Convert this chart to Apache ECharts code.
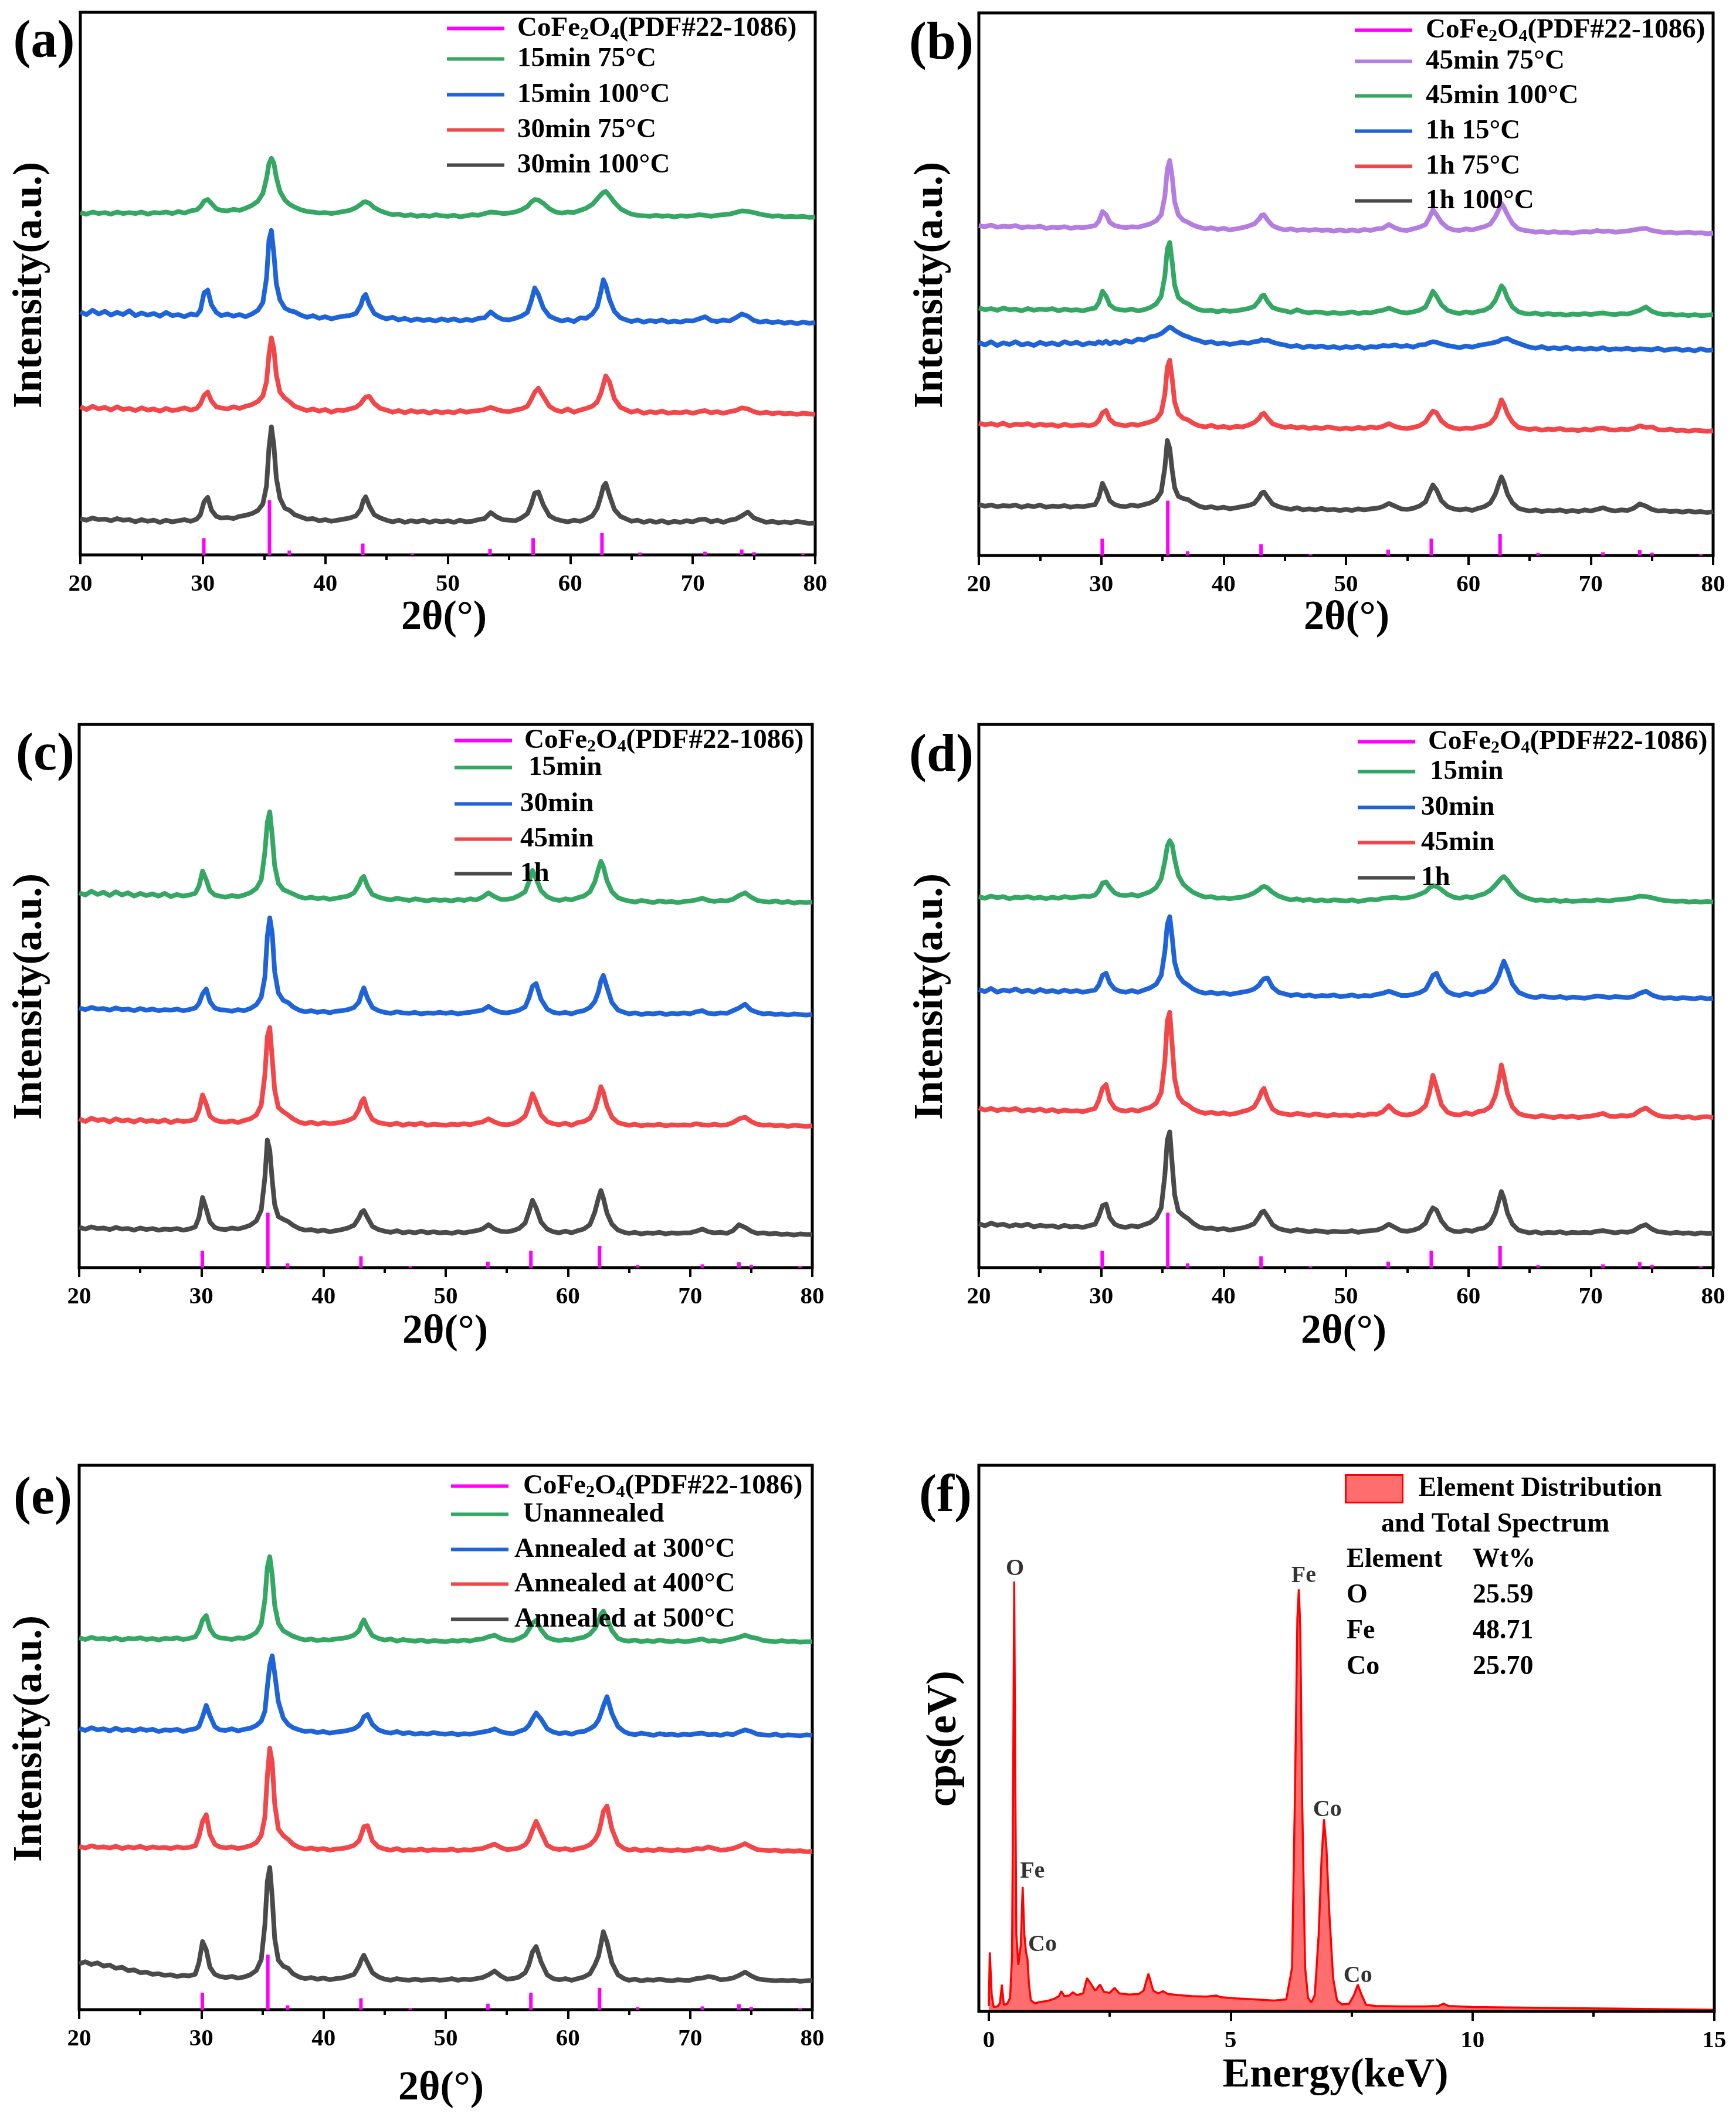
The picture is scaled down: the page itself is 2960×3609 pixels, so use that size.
<!DOCTYPE html>
<html>
<head>
<meta charset="utf-8">
<script src="https://cdn.jsdelivr.net/npm/echarts@6/dist/echarts.min.js"></script>
<style>html,body{margin:0;padding:0;background:#fff;}#c{width:2960px;height:3609px;}</style>
</head>
<body>
<div id="c"></div>
<script>
// ---------- shared 2θ grid for XRD traces ----------
const XG = [
20,20.5,21,21.5,22,22.5,23,23.5,24,24.5,25,25.5,26,26.5,27,27.5,28,28.5,29,29.5,
29.8,30.1,30.4,30.7,31.1,31.5,
32,32.5,33,33.5,34,34.5,
34.9,35.2,35.4,35.6,35.8,36.0,36.3,36.7,37.1,37.5,
38,38.5,39,39.5,40,40.5,41,41.5,42,42.5,
42.9,43.1,43.3,43.6,44.0,44.5,
45,45.5,46,46.5,47,47.5,48,48.5,49,49.5,
50,50.5,51,51.5,52,52.5,53,53.5,54,54.5,
55,55.5,56,56.5,56.8,57.1,57.4,57.8,58.3,58.8,
59.3,59.8,60.3,60.8,61.3,61.8,
62.2,62.5,62.7,62.9,63.2,63.6,64.1,64.6,
65,65.5,66,66.5,67,67.5,68,68.5,69,69.5,
70,70.5,71,71.5,72,72.5,73,73.5,74,74.5,
75,75.5,76,76.5,77,77.5,78,78.5,79,79.5,80];

// ---------- CoFe2O4 reference pattern (PDF#22-1086) ----------
const PDF_NAME = 'CoFe2O4(PDF#22-1086)';
const PDF_X = [30.08,35.44,37.06,43.06,47.1,53.45,56.97,62.59,65.7,71.0,74.0,75.0,79.0];
const PDF_H = [3.1,10.1,0.8,2.1,0.25,1.1,3.1,4.0,0.45,0.6,1.0,0.5,0.25];

// ---------- panel (a) ----------
const NAMES_A = ['15min 75°C','15min 100°C','30min 75°C','30min 100°C'];
const OFF_A = [62.6,43.5,26.4,6.2];
const A_1 = [
0.5,0.2,0.6,0.3,0.5,0.2,0.6,0.3,0.5,0.3,0.6,0.2,0.5,0.4,0.6,0.3,0.7,0.4,0.8,1.0,
1.6,2.6,2.9,2.2,1.2,0.9,
0.8,1.1,0.9,1.3,1.8,2.6,
4.0,6.8,9.5,10.5,9.6,7.0,4.4,2.8,2.0,1.5,
1.0,0.7,0.6,0.4,0.5,0.3,0.5,0.7,0.9,1.4,
2.0,2.4,2.5,2.2,1.4,0.8,
0.4,0.1,0.2,-0.1,0.1,-0.2,0.0,-0.2,0.1,-0.1,
-0.2,0.0,-0.3,-0.1,0.1,0.0,0.3,0.6,0.5,0.3,
0.4,0.6,1.0,1.6,2.4,2.9,2.8,2.2,1.2,0.6,
0.4,0.6,0.5,0.9,1.3,2.0,
3.0,3.8,4.2,4.4,3.6,2.4,1.2,0.6,
0.2,0.0,-0.1,-0.2,0.0,-0.2,-0.1,-0.3,-0.1,-0.2,
-0.1,0.1,0.0,-0.2,0.0,0.1,0.2,0.5,0.8,0.7,
0.5,0.2,0.0,-0.2,-0.1,-0.3,-0.2,-0.3,-0.2,-0.4,-0.3];
const A_2 = [
1.3,0.8,1.6,0.9,1.4,0.7,1.2,0.8,1.5,0.6,1.1,0.7,1.0,0.5,1.2,0.6,0.8,0.4,0.9,0.7,
1.6,4.8,5.3,2.6,1.2,0.6,
0.9,0.5,0.8,0.4,0.9,1.6,
3.0,7.5,14.5,16.3,12.0,6.5,3.5,2.0,1.5,1.3,
0.7,0.3,0.6,0.1,0.4,0.0,0.3,0.5,0.6,1.0,
2.5,4.0,4.5,2.6,1.0,0.4,
0.0,0.3,-0.2,0.1,-0.3,0.0,-0.3,-0.1,-0.4,0.0,
-0.3,0.0,-0.4,-0.1,-0.3,0.1,0.2,1.3,0.4,-0.1,
-0.2,0.1,0.5,1.2,3.2,5.7,4.5,2.0,0.5,0.0,
-0.4,-0.1,-0.5,0.2,0.1,0.9,
2.2,5.0,7.2,6.2,3.6,1.4,0.2,-0.2,
-0.5,-0.2,-0.6,-0.3,-0.5,-0.2,-0.6,-0.4,-0.6,-0.3,
-0.4,0.0,0.4,-0.3,-0.5,-0.2,-0.4,0.2,0.9,0.5,
-0.3,-0.6,-0.4,-0.7,-0.5,-0.8,-0.6,-0.9,-0.6,-0.8,-0.7];
const A_3 = [
0.9,0.4,1.0,0.5,0.8,0.3,0.9,0.4,0.6,0.2,0.7,0.3,0.5,0.1,0.6,0.2,0.4,0.7,0.3,0.6,
1.4,3.0,3.6,2.0,0.9,0.7,
0.5,0.9,0.6,1.0,1.3,1.9,
2.9,5.5,10.5,13.6,11.5,6.8,3.6,2.5,1.8,1.0,
0.6,0.2,0.5,0.1,0.4,-0.1,0.3,0.2,0.5,0.8,
1.5,2.2,2.7,2.8,1.5,0.6,
0.3,-0.1,0.2,-0.2,0.2,-0.1,0.1,-0.3,0.1,-0.2,
0.0,-0.2,0.2,-0.1,0.1,0.2,0.4,0.8,0.4,0.1,
0.0,0.3,0.5,1.0,2.2,3.6,4.3,2.8,1.0,0.3,
0.0,0.5,-0.1,0.3,0.6,1.0,
1.8,3.4,5.0,6.6,5.5,2.4,0.8,0.3,
-0.1,0.2,-0.3,0.0,-0.2,0.1,-0.3,-0.1,-0.2,0.0,
-0.3,0.0,0.2,-0.2,0.0,-0.3,0.0,0.2,0.7,0.5,
0.0,-0.3,-0.1,-0.4,-0.2,-0.4,-0.3,-0.5,-0.3,-0.4,-0.5];
const A_4 = [
0.5,0.2,0.6,0.3,0.4,0.1,0.5,0.2,0.3,-0.1,0.3,0.0,0.2,-0.2,0.2,-0.1,0.1,0.3,0.0,0.4,
1.2,3.6,4.4,2.1,0.9,0.6,
0.7,0.5,0.9,1.1,1.4,2.0,
3.2,6.5,13.5,17.4,14.0,8.0,4.2,2.4,2.0,1.2,
0.8,0.4,0.5,0.1,0.3,0.0,0.2,0.4,0.6,1.0,
2.2,3.8,4.5,2.8,1.2,0.6,
0.2,-0.1,0.2,-0.2,0.1,-0.1,0.2,-0.2,0.1,-0.1,
0.1,-0.2,0.2,-0.1,0.0,0.3,0.5,1.6,0.8,0.3,
0.2,0.1,0.6,1.4,3.0,5.2,5.4,3.0,1.0,0.4,
0.1,-0.1,0.2,0.0,0.4,1.0,
2.4,4.6,6.4,7.0,4.8,2.2,0.9,0.4,
0.0,0.2,-0.2,0.1,-0.2,0.1,-0.3,0.0,-0.2,0.1,
-0.1,0.3,0.4,-0.1,0.2,-0.2,0.2,0.4,1.0,1.7,
0.6,0.2,-0.2,0.0,-0.3,-0.1,-0.3,0.0,-0.2,-0.4,-0.3];

// ---------- panel (b) ----------
const NAMES_B = ['45min 75°C','45min 100°C','1h 15°C','1h 75°C','1h 100°C'];
const OFF_B = [60.2,45.0,38.5,23.7,8.7];
const B_1 = [
0.6,0.4,0.7,0.3,0.5,0.4,0.6,0.2,0.4,0.3,0.5,0.1,0.3,0.2,0.4,0.1,0.3,0.2,0.4,0.6,
1.4,3.2,2.6,1.2,0.6,0.4,
0.2,0.4,0.3,0.6,0.9,1.5,
2.6,6.0,11.0,12.6,9.5,5.0,2.6,1.6,1.2,0.7,
0.3,0.0,0.2,-0.1,0.1,-0.2,0.0,0.2,0.5,0.9,
1.8,2.5,2.6,1.6,0.6,0.1,
-0.2,0.0,-0.3,-0.1,-0.3,-0.1,-0.3,-0.2,-0.4,-0.2,
-0.4,-0.2,-0.4,-0.1,-0.3,0.0,0.1,0.8,0.2,-0.2,
-0.3,0.0,0.3,0.8,2.0,3.5,2.6,1.2,0.2,-0.2,
-0.3,0.0,-0.2,0.1,0.4,0.9,
2.2,3.6,4.7,4.0,2.6,1.0,0.0,-0.3,
-0.4,-0.6,-0.5,-0.7,-0.5,-0.7,-0.6,-0.8,-0.6,-0.5,
-0.6,-0.3,-0.5,-0.4,-0.6,-0.5,-0.4,-0.2,0.0,0.1,
-0.3,-0.5,-0.7,-0.6,-0.8,-0.7,-0.6,-0.8,-0.7,-0.9,-0.8];
const B_2 = [
0.6,0.3,0.5,0.2,0.6,0.3,0.4,0.1,0.5,0.2,0.4,0.3,0.5,0.1,0.4,0.2,0.3,0.1,0.4,0.6,
1.6,3.7,2.8,1.2,0.5,0.3,
0.2,0.4,0.1,0.3,0.7,1.4,
2.8,6.5,11.5,12.7,9.0,4.8,2.6,1.8,1.4,0.8,
0.3,0.1,0.2,-0.1,0.2,0.0,0.1,0.3,0.5,0.9,
2.0,2.8,3.0,1.8,0.7,0.3,
0.1,-0.2,0.3,-0.1,-0.3,-0.1,-0.2,-0.4,-0.2,-0.4,
-0.3,-0.1,-0.4,-0.2,-0.3,0.0,0.2,0.6,0.2,-0.2,
-0.3,-0.1,0.2,0.8,2.2,3.7,2.8,1.2,0.2,-0.2,
-0.4,-0.1,-0.3,0.0,0.2,0.8,
2.0,3.6,4.7,4.2,2.4,0.8,-0.1,-0.4,
-0.5,-0.3,-0.6,-0.4,-0.6,-0.5,-0.7,-0.5,-0.6,-0.4,
-0.6,-0.4,-0.3,-0.5,-0.6,-0.4,-0.5,-0.2,0.2,0.8,
0.0,-0.4,-0.6,-0.5,-0.7,-0.6,-0.8,-0.6,-0.8,-0.7,-0.6];
const B_3 = [
0.8,0.3,0.9,0.2,0.7,0.4,0.9,0.3,0.6,0.2,0.8,0.4,0.7,0.3,0.9,0.5,0.8,0.3,0.7,0.5,
0.9,0.6,1.0,0.5,0.9,0.6,
1.1,0.8,1.4,1.2,1.8,2.0,
2.4,2.9,3.3,3.6,3.4,3.0,2.6,2.1,1.8,1.4,
1.1,0.7,0.9,0.5,0.7,0.4,0.6,0.8,0.6,0.9,
1.0,1.3,1.1,1.2,0.8,0.5,
0.3,0.0,0.2,-0.2,0.1,-0.1,0.1,-0.2,0.0,-0.3,
0.0,-0.2,0.1,-0.3,0.0,-0.1,0.2,0.1,0.3,0.0,
0.2,-0.1,0.3,0.4,0.7,0.9,0.8,0.5,0.2,0.0,
-0.2,0.1,-0.1,0.2,0.4,0.6,
0.8,1.0,1.3,1.4,1.5,1.0,0.6,0.2,
-0.1,-0.3,0.0,-0.4,-0.2,-0.4,-0.1,-0.5,-0.3,-0.5,
-0.3,-0.5,-0.2,-0.6,-0.4,-0.5,-0.3,-0.6,-0.4,-0.5,
-0.6,-0.3,-0.7,-0.5,-0.4,-0.7,-0.5,-0.8,-0.4,-0.7,-0.6];
const B_4 = [
0.7,0.4,0.6,0.3,0.7,0.2,0.5,0.4,0.6,0.2,0.5,0.3,0.4,0.1,0.5,0.2,0.3,0.4,0.2,0.5,
1.2,2.6,3.0,1.4,0.6,0.4,
0.2,0.5,0.3,0.6,0.9,1.4,
2.6,6.0,11.0,12.3,8.8,4.6,2.4,1.6,1.3,0.7,
0.2,0.0,0.3,-0.1,0.1,-0.2,0.1,0.0,0.3,0.8,
1.6,2.3,2.5,1.6,0.6,0.2,
-0.1,0.1,-0.2,0.0,-0.3,-0.1,-0.3,0.0,-0.2,-0.4,
-0.2,-0.4,-0.1,-0.3,0.0,-0.2,0.1,0.6,0.1,-0.2,
-0.3,-0.1,0.2,0.9,2.0,2.9,2.6,1.1,0.2,-0.2,
-0.4,-0.2,-0.3,0.0,0.2,0.7,
1.8,3.6,5.0,4.2,2.4,0.9,-0.1,-0.3,
-0.5,-0.3,-0.6,-0.4,-0.5,-0.3,-0.6,-0.5,-0.7,-0.4,
-0.6,-0.3,-0.2,-0.5,-0.6,-0.4,-0.5,-0.3,0.2,-0.1,
0.0,-0.5,-0.6,-0.4,-0.7,-0.6,-0.8,-0.6,-0.7,-0.8,-0.7];
const B_5 = [
0.7,0.4,0.6,0.3,0.5,0.4,0.6,0.2,0.5,0.3,0.6,0.2,0.4,0.3,0.5,0.2,0.4,0.3,0.5,0.7,
2.0,4.6,3.2,1.4,0.7,0.4,
0.3,0.6,0.4,0.7,1.0,1.6,
3.0,7.5,12.5,11.0,7.0,3.8,2.2,1.8,1.6,1.0,
0.4,0.1,0.3,0.0,0.2,-0.1,0.1,0.3,0.5,0.9,
2.0,2.8,3.0,2.0,0.8,0.3,
0.0,-0.2,0.1,-0.3,-0.1,-0.3,0.0,-0.3,-0.2,-0.4,
-0.2,-0.4,-0.1,-0.3,-0.1,0.0,0.3,0.9,0.4,-0.1,
-0.2,0.0,0.4,1.2,2.8,4.3,3.4,1.4,0.3,-0.1,
-0.3,-0.1,-0.4,0.0,0.3,1.0,
2.6,4.6,5.8,4.8,2.6,1.0,0.0,-0.3,
-0.5,-0.3,-0.6,-0.4,-0.5,-0.3,-0.6,-0.4,-0.6,-0.3,
-0.5,-0.2,0.1,-0.3,-0.5,-0.3,-0.4,0.0,0.8,0.4,
-0.2,-0.5,-0.4,-0.6,-0.5,-0.7,-0.5,-0.7,-0.6,-0.8,-0.6];

// ---------- panel (c) ----------
const NAMES_C = ['15min','30min','45min','1h'];
const OFF_C = [68.0,47.0,26.5,6.6];
const C_1 = [
1.0,0.6,1.3,0.7,1.1,0.5,1.2,0.6,1.0,0.4,0.9,0.5,0.8,0.4,0.9,0.3,0.7,0.4,0.6,0.9,
2.2,5.0,3.4,1.4,0.6,0.4,
0.2,0.5,0.3,0.6,1.0,1.8,
3.4,8.5,14.0,15.9,11.5,6.0,2.8,1.6,1.2,0.8,
0.3,0.0,0.2,-0.1,0.1,-0.2,0.0,0.2,0.4,1.0,
2.5,3.6,4.0,2.2,0.7,0.2,
-0.1,-0.3,0.0,-0.2,-0.4,-0.1,-0.3,-0.5,-0.2,-0.4,
-0.3,-0.5,-0.2,-0.4,-0.1,-0.3,0.2,1.0,0.3,-0.2,
-0.2,0.0,0.5,1.2,3.0,5.1,3.6,1.4,0.3,-0.2,
-0.4,-0.1,-0.3,0.1,0.4,1.2,
3.0,5.4,6.8,5.8,3.2,1.2,0.1,-0.3,
-0.5,-0.7,-0.4,-0.6,-0.8,-0.5,-0.7,-0.6,-0.8,-0.6,
-0.5,-0.3,0.0,-0.4,-0.6,-0.4,-0.5,-0.2,0.5,1.0,
0.2,-0.4,-0.6,-0.7,-0.5,-0.8,-0.6,-0.9,-0.7,-0.8,-0.7];
const C_2 = [
0.8,0.5,0.9,0.6,0.7,0.4,0.8,0.5,0.6,0.3,0.7,0.4,0.6,0.3,0.5,0.4,0.6,0.3,0.5,0.8,
1.6,3.4,4.3,2.0,0.8,0.5,
0.4,0.2,0.5,0.3,0.7,1.4,
2.8,6.5,14.0,17.4,14.5,7.5,3.6,2.2,1.8,1.0,
0.4,0.1,0.3,0.0,0.2,-0.1,0.2,0.3,0.5,0.9,
1.9,3.4,4.5,2.6,0.9,0.3,
0.0,-0.2,0.1,-0.1,-0.2,0.0,-0.3,-0.1,-0.2,0.0,
-0.2,0.0,-0.3,-0.1,0.0,0.2,0.4,1.1,0.4,0.0,
-0.1,0.1,0.4,1.0,2.6,4.8,5.3,2.4,0.6,0.0,
-0.2,0.0,-0.3,0.1,0.3,0.9,
2.0,3.8,5.8,6.8,4.6,1.8,0.4,0.0,
-0.3,-0.1,-0.4,-0.2,-0.3,-0.1,-0.4,-0.2,-0.3,-0.1,
-0.3,0.1,0.3,-0.2,-0.3,-0.1,-0.2,0.3,0.8,1.5,
0.4,0.0,-0.3,-0.2,-0.4,-0.3,-0.5,-0.3,-0.4,-0.5,-0.4];
const C_3 = [
0.9,0.4,1.0,0.6,0.8,0.3,0.9,0.5,0.7,0.3,0.8,0.4,0.6,0.3,0.7,0.2,0.6,0.4,0.5,0.8,
2.4,5.3,3.6,1.4,0.7,0.4,
0.3,0.5,0.2,0.6,0.9,1.6,
3.4,9.0,16.0,17.7,12.0,6.2,3.0,2.2,1.6,0.9,
0.3,0.0,0.3,-0.1,0.2,0.0,0.1,0.3,0.6,1.1,
2.6,4.0,4.6,2.4,0.8,0.2,
0.0,-0.2,0.1,-0.3,0.0,-0.2,0.1,-0.3,-0.1,-0.2,
-0.3,-0.1,-0.2,0.0,-0.2,0.1,0.3,0.9,0.3,-0.1,
-0.2,0.0,0.5,1.4,3.2,5.5,4.0,1.6,0.4,0.0,
-0.2,0.1,-0.3,0.2,0.4,1.0,
2.6,5.0,6.8,5.8,3.2,1.2,0.2,-0.1,
-0.3,-0.1,-0.4,-0.2,-0.3,-0.1,-0.4,-0.2,-0.3,-0.2,
-0.3,0.0,-0.2,-0.3,-0.1,-0.3,-0.2,0.2,0.9,1.2,
0.4,-0.1,-0.3,-0.2,-0.4,-0.3,-0.5,-0.3,-0.4,-0.5,-0.4];
const C_4 = [
0.8,0.5,0.9,0.6,0.7,0.4,0.8,0.5,0.6,0.3,0.7,0.4,0.6,0.3,0.5,0.4,0.6,0.3,0.5,0.9,
2.6,6.3,4.2,1.8,0.8,0.5,
0.4,0.7,0.5,0.8,1.2,2.0,
4.0,10.0,16.9,15.0,9.5,5.0,2.8,2.3,1.9,1.2,
0.6,0.3,0.4,0.1,0.3,0.0,0.2,0.4,0.7,1.2,
2.6,3.6,3.9,2.6,1.0,0.4,
0.1,-0.1,0.2,-0.2,0.0,-0.2,0.1,-0.2,0.0,-0.2,
-0.1,-0.3,0.0,-0.2,0.0,0.2,0.5,1.3,0.5,0.1,
0.0,0.2,0.6,1.6,3.6,5.8,4.4,1.8,0.5,0.0,
-0.2,0.1,-0.2,0.2,0.5,1.3,
3.6,6.2,7.6,6.2,3.4,1.4,0.3,-0.1,
-0.3,-0.1,-0.4,-0.2,-0.3,-0.1,-0.4,-0.2,-0.3,-0.2,
-0.2,0.1,0.5,0.0,-0.2,-0.1,-0.3,0.2,1.3,0.8,
0.1,-0.3,-0.2,-0.4,-0.3,-0.5,-0.4,-0.6,-0.4,-0.5,-0.5];

// ---------- panel (d) ----------
const NAMES_D = ['15min','30min','45min','1h'];
const OFF_D = [67.6,50.2,28.4,7.0];
const D_1 = [
0.7,0.4,0.8,0.5,0.7,0.3,0.6,0.5,0.7,0.4,0.6,0.3,0.6,0.4,0.7,0.5,0.6,0.8,0.7,1.0,
1.8,3.2,3.4,2.4,1.4,1.0,
0.9,1.1,0.8,1.2,1.6,2.4,
4.0,7.2,10.0,11.0,10.2,7.6,4.6,3.0,2.2,1.5,
1.0,0.6,0.7,0.4,0.5,0.3,0.5,0.6,0.9,1.4,
2.0,2.4,2.6,2.3,1.5,0.8,
0.4,0.1,0.3,0.0,0.2,-0.1,0.1,-0.1,0.1,0.0,
-0.1,0.1,-0.2,0.0,0.2,0.1,0.4,0.5,0.6,0.4,
0.5,0.7,1.1,1.6,2.3,2.7,2.6,2.0,1.1,0.6,
0.4,0.7,0.5,0.9,1.2,1.9,
2.8,3.6,4.1,4.4,3.7,2.4,1.2,0.6,
0.3,0.0,0.1,-0.1,0.1,-0.2,0.0,-0.2,-0.1,0.0,
-0.1,0.1,0.0,-0.1,0.1,0.2,0.3,0.5,0.8,0.7,
0.5,0.2,0.0,-0.1,-0.2,-0.1,-0.3,-0.2,-0.3,-0.2,-0.3];
const D_2 = [
1.0,0.6,1.2,0.5,0.9,0.7,1.1,0.6,0.9,0.5,1.0,0.6,0.8,0.5,0.9,0.6,0.8,0.5,0.7,0.9,
1.8,3.6,4.0,2.2,1.1,0.7,
0.5,0.8,0.5,0.9,1.3,2.0,
3.6,8.0,13.0,14.4,10.5,6.0,3.6,2.4,1.8,1.1,
0.6,0.3,0.5,0.2,0.4,0.1,0.3,0.5,0.7,1.1,
1.8,2.5,3.0,3.1,1.4,0.5,
0.2,-0.1,0.1,-0.2,0.0,-0.3,-0.1,-0.2,0.0,-0.3,
-0.2,0.0,-0.3,-0.1,-0.2,0.1,0.3,0.7,0.3,-0.1,
-0.1,0.1,0.4,1.0,2.2,3.6,4.0,2.0,0.6,0.1,
-0.1,0.3,0.0,0.5,0.6,1.2,
2.2,3.6,5.0,6.2,4.6,2.0,0.5,0.0,
-0.3,-0.5,-0.2,-0.4,-0.5,-0.3,-0.6,-0.4,-0.5,-0.6,
-0.4,-0.2,-0.3,-0.5,-0.3,-0.4,-0.5,-0.3,0.3,0.7,
0.0,-0.4,-0.6,-0.5,-0.7,-0.5,-0.6,-0.7,-0.5,-0.7,-0.6];
const D_3 = [
1.0,0.6,0.9,0.5,0.8,0.6,0.9,0.4,0.7,0.5,0.8,0.4,0.7,0.3,0.6,0.4,0.5,0.3,0.6,0.9,
2.4,4.6,5.3,2.4,1.0,0.6,
0.4,0.7,0.4,0.8,1.1,1.9,
3.8,9.5,17.0,18.6,12.5,6.4,3.2,2.0,1.5,0.8,
0.3,0.0,0.2,-0.1,0.1,-0.2,0.0,0.3,0.6,1.2,
2.8,4.0,4.6,2.6,0.8,0.1,
-0.1,-0.3,0.0,-0.2,-0.4,-0.1,-0.3,-0.5,-0.2,-0.4,
-0.3,-0.5,-0.2,-0.4,-0.1,-0.2,0.3,1.4,0.3,-0.2,
-0.3,-0.1,0.4,1.4,3.6,7.0,4.8,1.6,0.2,-0.2,
-0.3,0.1,-0.2,0.3,0.5,1.2,
3.2,6.2,8.9,7.0,3.6,1.2,0.0,-0.4,
-0.5,-0.7,-0.4,-0.6,-0.8,-0.5,-0.7,-0.5,-0.8,-0.6,
-0.5,-0.3,0.0,-0.5,-0.6,-0.4,-0.5,-0.3,0.5,1.0,
0.2,-0.4,-0.6,-0.7,-0.5,-0.8,-0.6,-0.9,-0.7,-0.6,-0.8];
const D_4 = [
1.1,0.7,1.2,0.8,1.0,0.6,0.9,0.7,1.0,0.5,0.8,0.6,0.7,0.4,0.8,0.5,0.6,0.4,0.7,1.0,
2.4,4.4,4.7,2.2,1.0,0.6,
0.4,0.7,0.5,0.9,1.3,2.2,
4.0,10.0,16.5,18.0,12.0,6.4,3.4,2.6,2.0,1.2,
0.5,0.2,0.3,0.0,0.2,-0.1,0.1,0.3,0.6,1.1,
2.4,3.2,3.4,2.4,0.9,0.2,
-0.1,-0.3,0.0,-0.2,-0.4,-0.2,-0.3,-0.5,-0.3,-0.4,
-0.4,-0.2,-0.5,-0.3,-0.2,-0.1,0.3,1.0,0.4,-0.2,
-0.3,-0.1,0.3,1.2,2.8,4.0,3.6,1.6,0.2,-0.3,
-0.4,-0.1,-0.3,0.1,0.3,1.2,
3.0,5.4,7.0,5.8,3.0,1.0,-0.1,-0.4,
-0.6,-0.4,-0.7,-0.5,-0.6,-0.4,-0.7,-0.5,-0.6,-0.5,
-0.6,-0.3,-0.2,-0.4,-0.6,-0.4,-0.5,-0.2,0.5,0.9,
0.1,-0.4,-0.5,-0.7,-0.5,-0.7,-0.6,-0.8,-0.6,-0.7,-0.7];

// ---------- panel (e) ----------
const NAMES_E = ['Unannealed','Annealed at 300°C','Annealed at 400°C','Annealed at 500°C'];
const OFF_E = [67.8,50.8,29.4,5.6];
const E_1 = [
0.5,0.2,0.6,0.3,0.4,0.2,0.5,0.1,0.4,0.3,0.5,0.2,0.4,0.1,0.4,0.3,0.5,0.2,0.4,0.7,
1.8,3.8,4.6,2.2,0.9,0.5,
0.4,0.2,0.5,0.4,0.8,1.5,
3.0,7.5,13.5,15.4,12.0,6.5,3.2,1.8,1.3,0.8,
0.4,0.1,0.3,0.0,0.2,0.1,0.3,0.4,0.6,1.0,
1.8,3.0,3.8,2.4,0.9,0.4,
0.1,0.3,-0.1,0.2,0.0,-0.1,0.1,-0.2,0.0,-0.1,
-0.2,0.0,-0.1,0.1,-0.1,0.2,0.3,0.7,1.0,0.4,
0.1,0.0,0.4,1.0,2.0,3.2,3.7,2.0,0.6,0.2,
0.0,0.2,0.1,0.4,0.6,1.2,
2.2,3.6,4.8,5.4,4.0,1.8,0.4,0.0,
-0.1,0.1,-0.2,0.0,-0.2,0.1,-0.1,-0.2,0.0,-0.2,
-0.1,0.1,0.3,-0.1,0.0,-0.2,0.1,0.3,0.6,1.0,
0.6,0.4,0.0,-0.1,-0.2,0.0,-0.2,-0.1,-0.3,-0.2,-0.2];
const E_2 = [
0.9,0.5,1.0,0.6,0.8,0.4,0.9,0.5,0.7,0.4,0.8,0.5,0.7,0.3,0.6,0.5,0.7,0.3,0.6,0.8,
1.2,3.0,5.1,3.2,1.2,0.6,
0.5,0.8,0.4,0.7,0.9,1.4,
2.2,4.0,8.5,12.5,14.2,11.0,5.8,2.8,1.6,1.0,
0.6,0.3,0.4,0.1,0.3,0.0,0.2,0.3,0.5,0.8,
1.4,2.0,3.0,3.4,1.6,0.6,
0.2,0.0,0.3,-0.1,0.1,-0.2,0.0,-0.2,0.1,-0.1,
-0.2,0.0,-0.3,-0.1,-0.2,0.0,0.2,0.4,0.8,0.3,
0.0,-0.1,0.3,0.7,1.4,2.6,3.7,2.6,0.8,0.2,
-0.1,0.1,-0.2,0.2,0.3,0.8,
1.4,2.4,3.6,5.0,6.7,3.6,1.2,0.3,
-0.1,-0.3,0.0,-0.2,-0.4,-0.1,-0.3,-0.2,-0.4,-0.2,
-0.3,-0.1,0.0,-0.3,-0.2,-0.4,-0.1,-0.3,0.2,0.6,
0.3,-0.2,-0.3,-0.4,-0.2,-0.5,-0.3,-0.4,-0.5,-0.3,-0.4];
const E_3 = [
0.6,0.3,0.7,0.4,0.5,0.3,0.6,0.2,0.5,0.3,0.6,0.2,0.5,0.3,0.4,0.2,0.5,0.3,0.4,0.7,
2.4,5.2,6.4,2.8,1.0,0.5,
0.3,0.5,0.2,0.4,0.7,1.3,
2.6,6.0,13.5,18.6,16.0,8.5,3.8,2.6,1.9,1.0,
0.4,0.1,0.3,0.0,0.2,-0.1,0.1,0.2,0.4,0.8,
1.6,2.8,4.2,4.4,1.6,0.5,
0.1,-0.1,0.2,-0.2,0.0,-0.1,0.1,-0.2,0.0,-0.1,
-0.1,0.1,-0.2,0.0,-0.1,0.1,0.2,0.6,1.0,0.4,
0.0,0.1,0.3,0.9,1.8,3.6,5.2,3.2,0.8,0.2,
0.0,0.2,-0.1,0.2,0.4,0.9,
1.8,3.0,4.8,7.0,8.0,3.8,1.0,0.2,
-0.1,0.1,-0.2,0.0,-0.2,0.1,-0.1,-0.2,0.0,-0.2,
-0.1,0.2,0.1,0.5,0.2,-0.1,0.0,0.2,0.6,1.1,
0.5,0.0,-0.1,-0.2,-0.1,-0.3,-0.2,-0.3,-0.2,-0.4,-0.3];
const E_4 = [
2.8,3.2,2.7,3.0,2.4,2.6,2.0,2.2,1.6,1.7,1.2,1.3,0.9,1.0,0.7,0.8,0.5,0.7,0.6,0.9,
3.0,6.9,5.4,2.2,0.9,0.5,
0.3,0.5,0.2,0.4,0.8,1.6,
3.6,10.0,18.0,20.5,15.0,7.5,3.5,2.4,2.0,1.0,
0.4,0.1,0.3,0.0,0.2,-0.1,0.1,0.2,0.5,0.9,
2.4,3.6,4.4,3.0,1.2,0.4,
0.0,-0.2,0.1,-0.1,-0.2,0.0,-0.2,-0.1,0.0,-0.2,
-0.1,0.1,-0.2,0.0,-0.1,0.1,0.3,0.8,1.5,0.6,
0.0,0.1,0.4,1.2,2.6,5.0,6.0,3.2,0.8,0.1,
-0.1,0.1,-0.2,0.1,0.4,1.0,
2.6,4.2,6.4,8.7,6.8,3.0,0.8,0.1,
-0.2,0.0,-0.3,-0.1,-0.2,0.0,-0.2,-0.3,-0.1,-0.2,
-0.2,0.1,0.2,0.5,0.3,-0.1,0.0,0.2,0.7,1.3,
0.6,0.1,-0.1,-0.2,-0.3,-0.2,-0.3,-0.2,-0.4,-0.3,-0.2];

// ---------- panel (f) EDS spectrum ----------
const EDS_NAME = 'Element Distribution';
const EDS_E = [0.00,0.02,0.06,0.10,0.18,0.23,0.27,0.31,0.38,0.44,0.48,0.505,0.525,0.545,0.57,0.61,0.66,0.70,0.735,0.77,0.80,0.83,0.87,0.95,1.05,1.2,1.35,1.45,1.5,1.56,1.66,1.74,1.82,1.95,2.03,2.1,2.2,2.3,2.38,2.5,2.6,2.7,2.9,3.1,3.2,3.3,3.4,3.5,3.6,3.7,3.9,4.2,4.5,4.7,4.8,5.1,5.5,5.9,6.15,6.27,6.33,6.38,6.41,6.44,6.48,6.54,6.6,6.67,6.74,6.82,6.88,6.93,6.98,7.04,7.12,7.2,7.3,7.45,7.55,7.63,7.7,7.8,8.0,8.5,9.0,9.3,9.4,9.5,10.0,11.0,12.0,13.0,14.0,15.0];
const EDS_C = [1.0,10.8,3.0,0.8,0.9,1.5,4.9,1.2,1.4,2.5,10,45,78.7,45,14,8.5,12,22.8,14,10.8,9.5,5,2,1.5,1.7,1.9,2.3,2.8,3.7,2.8,2.9,3.5,3.0,3.3,6.1,5.2,3.8,4.9,3.6,3.4,4.3,3.3,3.1,3.2,3.8,6.9,3.8,3.3,3.7,3.2,3.0,2.8,2.7,2.9,2.6,2.4,2.2,2.0,2.2,8,40,72,77.3,70,38,8,2.5,1.6,3,14,28,35.2,30,18,6,2,1.3,1.4,3,4.9,3.2,1.2,1.0,0.9,0.9,1.0,1.4,1.0,0.8,0.7,0.6,0.5,0.4,0.3];
const EDS_LABEL_TEXT = ['O','Fe','Fe','Co','Co','Co'];
const EDS_LABEL_E = [0.54,6.51,0.90,1.11,7.00,7.63];
const EDS_LABEL_C = [81.0,79.7,25.6,12.2,36.9,6.5];
const EDS_TABLE_HEAD = ['Element','Wt%'];
const EDS_ELEMENTS = ['O','Fe','Co'];
const EDS_WT = ['25.59','48.71','25.70'];

// ---------- text ----------
const PANEL_LABELS = ['(a)','(b)','(c)','(d)','(e)','(f)'];
const X_TITLES = ['2θ(°)','2θ(°)','2θ(°)','2θ(°)','2θ(°)','Energy(keV)'];
const Y_TITLES = ['Intensity(a.u.)','Intensity(a.u.)','Intensity(a.u.)','Intensity(a.u.)','Intensity(a.u.)','cps(eV)'];

// ---------- styling / layout ----------
const FONT = '"Liberation Serif","Times New Roman",serif';
const GREEN = '#35a764', BLUE = '#1f63d8', RED = '#f1474a', GRAY = '#4a4a4a', PURPLE = '#b47de0', MAGENTA = '#ff00ff';
const GRIDS = [
  {left:137, top:21,  width:1253, height:925},
  {left:1669,top:22,  width:1252, height:925},
  {left:135, top:1235,width:1250, height:926},
  {left:1669,top:1235,width:1252, height:926},
  {left:135, top:2498,width:1250, height:928},
  {left:1686,top:2498,width:1237, height:931}
];
const F_FRAME = {x:1669, y:2498, width:1254, height:931};
const LABEL_POS = [[75,74],[1605,77],[77,1289],[1605,1291],[73,2557],[1612,2553]];
const XT_POS = [[757,1054],[2296,1054],[759,2271],[2291,2271],[752,3561],[2277,3539]];
const YT_POS = [[52,486],[1588,486],[52,1699],[1588,1699],[52,2964],[1610,2964]];

const XRD = [
  {names:NAMES_A, off:OFF_A, vals:[A_1,A_2,A_3,A_4], colors:[GREEN,BLUE,RED,GRAY],
   leg:{left:762, rows:[51,103,164,224,284], pads:[17,17,17,17,17]}},
  {names:NAMES_B, off:OFF_B, vals:[B_1,B_2,B_3,B_4,B_5], colors:[PURPLE,GREEN,BLUE,RED,GRAY],
   leg:{left:2310, rows:[54,107,166,226,286,345], pads:[18,18,18,18,18,18]}},
  {names:NAMES_C, off:OFF_C, vals:[C_1,C_2,C_3,C_4], colors:[GREEN,BLUE,RED,GRAY],
   leg:{left:775, rows:[1265,1311,1373,1433,1492], pads:[16,23,9,9,9]}},
  {names:NAMES_D, off:OFF_D, vals:[D_1,D_2,D_3,D_4], colors:[GREEN,BLUE,RED,GRAY],
   leg:{left:2315, rows:[1267,1318,1379,1439,1499], pads:[17,20,5,5,5]}},
  {names:NAMES_E, off:OFF_E, vals:[E_1,E_2,E_3,E_4], colors:[GREEN,BLUE,RED,GRAY],
   leg:{left:769, rows:[2536,2584,2644,2703,2763], pads:[20,20,5,5,5]}}
];

const problems = [];
const grid = [], xAxis = [], yAxis = [], series = [], legend = [], graphic = [];
const tickStyle = {show:true, inside:false, length:16, lineStyle:{color:'#000', width:4}};
const minorStyle = {show:true, splitNumber:2, length:9, lineStyle:{color:'#000', width:4}};
const labelStyle = {show:true, margin:30, color:'#000', fontFamily:FONT, fontWeight:'bold', fontSize:41};

const legendRich = {
  n:{fontFamily:FONT, fontWeight:'bold', fontSize:47, color:'#000', lineHeight:52, verticalAlign:'middle'},
  s:{fontFamily:FONT, fontWeight:'bold', fontSize:30, color:'#000', lineHeight:12, verticalAlign:'bottom'}
};
function legendFormatter(name){
  if (name === PDF_NAME) return '{n|CoFe}{s|2}{n|O}{s|4}{n|(PDF#22-1086)}';
  return '{n|' + name + '}';
}
function addLegendRow(name, left, center, pad){
  legend.push({data:[name], left:left, top:center-26, orient:'vertical', padding:0, itemGap:0,
    itemWidth:98, itemHeight:6, icon:'rect', selectedMode:false, formatter:legendFormatter,
    textStyle:{rich:legendRich, padding:[0,0,0,pad]}});
}

XRD.forEach((p, gi) => {
  grid.push(Object.assign({show:true, borderColor:'#000', borderWidth:5, backgroundColor:'transparent', containLabel:false}, GRIDS[gi]));
  xAxis.push({type:'value', gridIndex:gi, min:20, max:80, interval:10,
    axisLine:{show:false}, axisTick:tickStyle, minorTick:minorStyle, splitLine:{show:false}, minorSplitLine:{show:false},
    axisLabel:labelStyle});
  yAxis.push({type:'value', gridIndex:gi, min:0, max:100, show:false, splitLine:{show:false}});
  p.vals.forEach((arr, si) => {
    if (arr.length !== XG.length) problems.push('panel ' + gi + ' series ' + si + ' length ' + arr.length);
    series.push({type:'line', name:p.names[si], xAxisIndex:gi, yAxisIndex:gi,
      data:XG.map((x, i) => [x, p.off[si] + arr[i]]),
      showSymbol:false, symbol:'none', sampling:'none', color:p.colors[si],
      lineStyle:{width:8, color:p.colors[si], join:'round'}, z:2});
  });
  series.push({type:'bar', name:PDF_NAME, xAxisIndex:gi, yAxisIndex:gi,
    data:PDF_X.map((x, i) => [x, PDF_H[i]]), barWidth:6, color:MAGENTA,
    itemStyle:{color:MAGENTA}, z:3});
  addLegendRow(PDF_NAME, p.leg.left, p.leg.rows[0], p.leg.pads[0]);
  p.names.forEach((nm, si) => addLegendRow(nm, p.leg.left, p.leg.rows[si+1], p.leg.pads[si+1]));
});

// panel (f)
grid.push(Object.assign({show:false, containLabel:false}, GRIDS[5]));
xAxis.push({type:'value', gridIndex:5, min:0, max:15, interval:5,
  axisLine:{show:false}, axisTick:tickStyle, minorTick:minorStyle, splitLine:{show:false},
  axisLabel:labelStyle});
yAxis.push({type:'value', gridIndex:5, min:0, max:100, show:false, splitLine:{show:false}});
if (EDS_E.length !== EDS_C.length) problems.push('EDS length ' + EDS_E.length + ' vs ' + EDS_C.length);
series.push({type:'line', name:EDS_NAME, xAxisIndex:5, yAxisIndex:5,
  data:EDS_E.map((e, i) => [e, EDS_C[i]]), showSymbol:false, symbol:'none', sampling:'none',
  color:'#ff0000', lineStyle:{width:3.5, color:'#ff0000'},
  areaStyle:{color:'#ff6e6e', opacity:1, origin:'start'}, z:2});
series.push({type:'scatter', name:'labels', xAxisIndex:5, yAxisIndex:5, symbolSize:1,
  itemStyle:{color:'transparent'}, silent:true,
  data:EDS_LABEL_E.map((e, i) => ({value:[e, EDS_LABEL_C[i]], name:EDS_LABEL_TEXT[i]})),
  label:{show:true, position:'inside', formatter:'{b}', color:'#000', fontFamily:FONT, fontWeight:'bold', fontSize:40}, z:5});
legend.push({data:[EDS_NAME], left:2293, top:2513, orient:'vertical', padding:0, itemWidth:97, itemHeight:47,
  icon:'rect', selectedMode:false,
  itemStyle:{color:'#ff6e6e', borderColor:'#ff0000', borderWidth:3},
  textStyle:{fontFamily:FONT, fontWeight:'bold', fontSize:46, color:'#000', padding:[0,0,0,22]}});

const tStyle = (size) => ({fill:'#000', fontFamily:FONT, fontWeight:'bold', fontSize:size, align:'center', verticalAlign:'middle'});
graphic.push({type:'rect', shape:F_FRAME, style:{fill:'none', stroke:'#000', lineWidth:5}, z:100});
graphic.push({type:'text', x:2355, y:2599, style:Object.assign(tStyle(46), {text:'and Total Spectrum', align:'left'})});
graphic.push({type:'text', x:2296, y:2659, style:Object.assign(tStyle(46), {text:EDS_TABLE_HEAD[0], align:'left'})});
graphic.push({type:'text', x:2511, y:2659, style:Object.assign(tStyle(46), {text:EDS_TABLE_HEAD[1], align:'left'})});
EDS_ELEMENTS.forEach((el, i) => {
  graphic.push({type:'text', x:2296, y:2720 + i*61, style:Object.assign(tStyle(46), {text:el, align:'left'})});
  graphic.push({type:'text', x:2511, y:2720 + i*61, style:Object.assign(tStyle(46), {text:EDS_WT[i], align:'left'})});
});
PANEL_LABELS.forEach((t, i) => {
  graphic.push({type:'text', x:LABEL_POS[i][0], y:LABEL_POS[i][1], style:Object.assign(tStyle(90), {text:t})});
  graphic.push({type:'text', x:XT_POS[i][0], y:XT_POS[i][1], style:Object.assign(tStyle(70), {text:X_TITLES[i]})});
  graphic.push({type:'text', x:YT_POS[i][0], y:YT_POS[i][1], rotation:Math.PI/2, style:Object.assign(tStyle(i===5?72:70), {text:Y_TITLES[i]})});
});

const chart = echarts.init(document.getElementById('c'), null, {renderer:'canvas', width:2960, height:3609});
chart.setOption({backgroundColor:'#fff', animation:false, grid, xAxis, yAxis, series, legend, graphic});
if (problems.length) throw new Error(problems.join('; '));
</script>
</body>
</html>
